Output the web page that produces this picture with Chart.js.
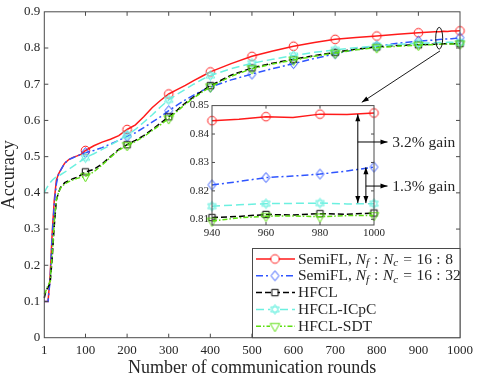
<!DOCTYPE html>
<html><head><meta charset="utf-8">
<script src="https://cdn.jsdelivr.net/npm/chart.js@4/dist/chart.umd.min.js"></script>
<style>
html,body{margin:0;padding:0;background:#fff;}
#wrap{position:relative;width:478px;height:376px;overflow:hidden;}
#main{position:absolute;left:0;top:0;}
#inset{position:absolute;left:170px;top:96px;}
</style></head><body>
<div id="wrap"><canvas id="main" width="478" height="376"></canvas><canvas id="inset" width="300" height="150"></canvas></div>
<script>
// ---------------- data ----------------
const rounds = [1,5,10,15,20,25,30,35,40,50,60,70,80,90,100,120,140,160,180,200,220,240,260,280,300,320,340,360,380,400,450,500,550,600,650,700,750,800,850,900,940,950,960,970,980,990,1000];
const semiFL_16_8 = [0.10,0.10,0.10,0.17,0.29,0.38,0.435,0.452,0.462,0.482,0.492,0.498,0.502,0.507,0.517,0.530,0.540,0.548,0.558,0.575,0.588,0.610,0.635,0.655,0.673,0.685,0.697,0.710,0.722,0.734,0.757,0.777,0.792,0.805,0.815,0.824,0.829,0.833,0.838,0.842,0.8447,0.8452,0.8461,0.8458,0.8470,0.8469,0.8474];
const semiFL_16_32 = [0.10,0.10,0.10,0.16,0.28,0.37,0.425,0.45,0.462,0.482,0.492,0.497,0.502,0.506,0.511,0.517,0.525,0.535,0.545,0.556,0.566,0.580,0.595,0.610,0.627,0.642,0.657,0.670,0.682,0.692,0.712,0.728,0.743,0.757,0.771,0.784,0.796,0.805,0.813,0.819,0.8221,0.8233,0.8247,0.8252,0.8259,0.8270,0.8284];
const hfcl = [0.11,0.13,0.14,0.15,0.22,0.31,0.38,0.40,0.415,0.428,0.434,0.439,0.443,0.450,0.458,0.465,0.480,0.500,0.520,0.533,0.545,0.558,0.575,0.592,0.610,0.628,0.648,0.665,0.681,0.696,0.725,0.745,0.758,0.769,0.779,0.788,0.797,0.803,0.807,0.809,0.8106,0.8110,0.8117,0.8115,0.8120,0.8118,0.8122];
const hfclICpC = [0.40,0.41,0.42,0.428,0.435,0.44,0.444,0.447,0.450,0.457,0.465,0.473,0.481,0.489,0.497,0.508,0.520,0.532,0.545,0.560,0.575,0.595,0.615,0.637,0.657,0.672,0.686,0.700,0.713,0.724,0.743,0.758,0.769,0.779,0.788,0.795,0.801,0.806,0.810,0.813,0.8146,0.8151,0.8155,0.8156,0.8157,0.8154,0.8155];
const hfclSDT = [0.12,0.13,0.145,0.155,0.23,0.32,0.38,0.40,0.413,0.425,0.431,0.436,0.440,0.443,0.446,0.458,0.477,0.498,0.518,0.531,0.542,0.555,0.572,0.588,0.605,0.625,0.645,0.662,0.678,0.693,0.722,0.743,0.756,0.767,0.777,0.786,0.795,0.801,0.805,0.808,0.8094,0.8105,0.8111,0.8112,0.8109,0.8113,0.8114];
const seriesLabels = ['SemiFL, $N_f : N_c = 16 : 8$','SemiFL, $N_f : N_c = 16 : 32$','HFCL','HFCL-ICpC','HFCL-SDT'];
const xTickValues = [1,100,200,300,400,500,600,700,800,900,1000];
const yTickValues = [0,0.1,0.2,0.3,0.4,0.5,0.6,0.7,0.8,0.9];
const mainMarkerRounds = [100,200,300,400,500,600,700,800,900,1000];
const insetXTicks = [940,960,980,1000];
const insetYTicks = [0.81,0.82,0.83,0.84,0.85];
const gainLabels = ['3.2% gain','1.3% gain'];

// ---------------- styles ----------------
const SERIF = '"Liberation Serif","DejaVu Serif",serif';
const TXT = '#262626';
const AX = '#4a4a4a';
function markerPath(ctx, kind, x, y, r){
  ctx.beginPath();
  if(kind==='circle'){ ctx.arc(x,y,r,0,Math.PI*2); }
  else if(kind==='diamond'){ ctx.moveTo(x,y-r); ctx.lineTo(x+r*0.8,y); ctx.lineTo(x,y+r); ctx.lineTo(x-r*0.8,y); ctx.closePath(); }
  else if(kind==='square'){ ctx.rect(x-r,y-r,2*r,2*r); }
  else if(kind==='hex'){
    for(const k of [0,1]){
      for(let i=0;i<3;i++){
        const a=-Math.PI/2+k*Math.PI+i*2*Math.PI/3;
        const px=x+r*Math.cos(a), py=y+r*Math.sin(a);
        if(i===0) ctx.moveTo(px,py); else ctx.lineTo(px,py);
      }
      ctx.closePath();
    }
  }
  else if(kind==='tridown'){
    ctx.moveTo(x,y+r); ctx.lineTo(x+r*0.87,y-r*0.5); ctx.lineTo(x-r*0.87,y-r*0.5); ctx.closePath();
  }
}
function makeMarker(kind,color,r){
  const c=document.createElement('canvas'); c.width=15; c.height=15;
  const g=c.getContext('2d'); g.strokeStyle=color; g.lineWidth=1;
  markerPath(g,kind,7.5,7.5,r); g.stroke(); return c;
}
const styles = [
  {color:'#ff1a1a', dash:[], kind:'circle', r:4.3},
  {color:'#2f55ff', dash:[7,3,2,3], kind:'diamond', r:5},
  {color:'#000000', dash:[6,3], kind:'square', r:3.2},
  {color:'#6cf0e0', dash:[8,4], kind:'hex', r:5},
  {color:'#5cde10', dash:[5,2,1.5,2], kind:'tridown', r:5.5}
];
styles.forEach(s=>{ s.img = makeMarker(s.kind,s.color,s.r); });
const seriesValues = [semiFL_16_8, semiFL_16_32, hfcl, hfclICpC, hfclSDT];

function buildDatasets(minRound, markerRounds){
  return seriesValues.map((vals,i)=>{
    const st=styles[i];
    const pts=[];
    rounds.forEach((r,j)=>{ if(r>=minRound) pts.push({x:r,y:vals[j]}); });
    return {
      label: seriesLabels[i], data: pts,
      borderColor: st.color, backgroundColor: st.color, borderWidth: 1.5,
      borderDash: st.dash, tension: 0, clip: false,
      pointStyle: st.img,
      pointRadius: c => (c.raw && markerRounds.includes(c.raw.x)) ? 5 : 0,
      pointHoverRadius: 0
    };
  }).reverse();
}

// ---------------- helpers ----------------
function arrowHead(ctx, x1,y1,x2,y2, len, w){
  const a=Math.atan2(y2-y1,x2-x1);
  ctx.beginPath();
  ctx.moveTo(x2,y2);
  ctx.lineTo(x2-len*Math.cos(a)+w*Math.sin(a), y2-len*Math.sin(a)-w*Math.cos(a));
  ctx.lineTo(x2-len*Math.cos(a)-w*Math.sin(a), y2-len*Math.sin(a)+w*Math.cos(a));
  ctx.closePath(); ctx.fill();
}
function drawRich(ctx, text, x, y, size){
  const parts=text.split('$');
  let cx=x;
  ctx.textBaseline='middle'; ctx.textAlign='left';
  parts.forEach((p,pi)=>{
    if(pi%2===0){ ctx.font=size+'px '+SERIF; ctx.fillText(p,cx,y); cx+=ctx.measureText(p).width; }
    else{
      for(let i=0;i<p.length;i++){
        const ch=p[i];
        if(ch==='_'){ const s=p[i+1]; ctx.font='italic '+(size*0.72)+'px '+SERIF; ctx.fillText(s,cx,y+3.5); cx+=ctx.measureText(s).width+0.5; i++; continue; }
        if(/[A-Za-z]/.test(ch)) ctx.font='italic '+size+'px '+SERIF; else ctx.font=size+'px '+SERIF;
        ctx.fillText(ch,cx,y); cx+=ctx.measureText(ch).width + (ch===' '?0.6:0);
      }
    }
  });
}
function frameAndTicks(ctx, area, xs, ys, xTicks, yTicks, len){
  ctx.save();
  ctx.strokeStyle=AX; ctx.lineWidth=1; ctx.setLineDash([]);
  ctx.strokeRect(area.left, area.top, area.right-area.left, area.bottom-area.top);
  ctx.beginPath();
  xTicks.forEach(v=>{ const p=xs.getPixelForValue(v); if(p>area.left+1 && p<area.right-1){ ctx.moveTo(p,area.bottom); ctx.lineTo(p,area.bottom-len); ctx.moveTo(p,area.top); ctx.lineTo(p,area.top+len);} });
  yTicks.forEach(v=>{ const p=ys.getPixelForValue(v); if(p>area.top+1 && p<area.bottom-1){ ctx.moveTo(area.left,p); ctx.lineTo(area.left+len,p); ctx.moveTo(area.right,p); ctx.lineTo(area.right-len,p);} });
  ctx.stroke(); ctx.restore();
}

// ---------------- main chart ----------------
const mainDecor = {
  id:'mainDecor',
  afterDraw(chart){
    const ctx=chart.ctx, a=chart.chartArea, xs=chart.scales.x, ys=chart.scales.y;
    frameAndTicks(ctx,a,xs,ys,xTickValues,yTickValues,4);
    // ellipse and pointer arrow
    ctx.save();
    ctx.strokeStyle='#000'; ctx.fillStyle='#000'; ctx.lineWidth=0.9;
    const ex=xs.getPixelForValue(950), ey=ys.getPixelForValue(0.827);
    ctx.beginPath(); ctx.ellipse(ex,ey,3.5,ys.getPixelForValue(0.797)-ey,0,0,Math.PI*2); ctx.stroke();
    const x1=xs.getPixelForValue(952), y1=ys.getPixelForValue(0.792);
    const x2=xs.getPixelForValue(764), y2=ys.getPixelForValue(0.650);
    ctx.beginPath(); ctx.moveTo(x1,y1); ctx.lineTo(x2,y2); ctx.stroke();
    arrowHead(ctx,x1,y1,x2,y2,7,2.5);
    ctx.restore();
    // legend
    ctx.save();
    const L=252, T=248, R=a.right, B=a.bottom;
    ctx.fillStyle='#fff'; ctx.fillRect(L,T,R-L,B-T);
    ctx.strokeStyle=AX; ctx.lineWidth=1; ctx.strokeRect(L+0.5,T+0.5,R-L-0.5,B-T-0.5);
    styles.forEach((st,i)=>{
      const y=259+i*16.8;
      ctx.strokeStyle=st.color; ctx.lineWidth=1.5; ctx.setLineDash(st.dash);
      ctx.beginPath(); ctx.moveTo(256,y); ctx.lineTo(295,y); ctx.stroke();
      ctx.setLineDash([]);
      ctx.fillStyle='#fff'; ctx.fillRect(275-st.r+0.5,y-st.r+0.5,2*st.r-1,2*st.r-1);
      ctx.drawImage(st.img,275-st.img.width/2,y-st.img.height/2);
      ctx.fillStyle=TXT;
      drawRich(ctx,seriesLabels[i],298,y+0.5,15.5);
    });
    ctx.restore();
  }
};

new Chart(document.getElementById('main'),{
  type:'line',
  data:{datasets: buildDatasets(0, mainMarkerRounds)},
  options:{
    responsive:false, animation:false, devicePixelRatio:1,
    layout:{padding:{top:7.5,right:15,left:0,bottom:0}},
    plugins:{legend:{display:false},tooltip:{enabled:false}},
    scales:{
      x:{type:'linear',min:1,max:1000,
        afterBuildTicks:s=>{s.ticks=xTickValues.map(v=>({value:v}));},
        ticks:{autoSkip:false,maxRotation:0,padding:5,color:TXT,font:{family:SERIF,size:13},callback:v=>String(v)},
        grid:{display:false,drawTicks:false},border:{display:false},
        title:{display:true,text:'Number of communication rounds',color:TXT,font:{family:SERIF,size:18,lineHeight:1},padding:{top:0,bottom:-1}},
        afterFit:s=>{s.height=38.3;}},
      y:{type:'linear',min:0,max:0.9,
        afterBuildTicks:s=>{s.ticks=yTickValues.map(v=>({value:v}));},
        ticks:{padding:4,color:TXT,font:{family:SERIF,size:13},callback:v=>(v===0?'0':v.toFixed(1))},
        grid:{display:false,drawTicks:false},border:{display:false},
        title:{display:true,text:'Accuracy',color:TXT,font:{family:SERIF,size:18,lineHeight:1},padding:{top:0,bottom:0}},
        afterFit:s=>{s.width=44.3;}}
    }
  },
  plugins:[mainDecor]
});

// ---------------- inset chart ----------------
const insetDecor = {
  id:'insetDecor',
  beforeDraw(chart){
    const a=chart.chartArea, ctx=chart.ctx;
    ctx.save(); ctx.fillStyle='#fff'; ctx.fillRect(a.left,a.top,a.right-a.left,a.bottom-a.top); ctx.restore();
  },
  afterDraw(chart){
    const ctx=chart.ctx, a=chart.chartArea, xs=chart.scales.x, ys=chart.scales.y;
    frameAndTicks(ctx,a,xs,ys,insetXTicks,insetYTicks,3);
    ctx.save();
    ctx.strokeStyle='#000'; ctx.fillStyle='#000'; ctx.lineWidth=1;
    const bottomV=0.8157;
    const arrows=[{x:994,top:0.8470,mid:0.8372},{x:997,top:0.8283,mid:0.8217}];
    arrows.forEach((ar,i)=>{
      const px=xs.getPixelForValue(ar.x), pt=ys.getPixelForValue(ar.top), pb=ys.getPixelForValue(bottomV);
      ctx.beginPath(); ctx.moveTo(px,pt); ctx.lineTo(px,pb); ctx.stroke();
      arrowHead(ctx,px,pb,px,pt,7,2.5);
      arrowHead(ctx,px,pt,px,pb,7,2.5);
      const pm=ys.getPixelForValue(ar.mid), pe=xs.getPixelForValue(1005);
      ctx.beginPath(); ctx.moveTo(px,pm); ctx.lineTo(pe,pm); ctx.stroke();
      arrowHead(ctx,px,pm,pe,pm,7,2.5);
      ctx.fillStyle=TXT; ctx.font='15.5px '+SERIF; ctx.textBaseline='middle'; ctx.textAlign='left';
      ctx.fillText(gainLabels[i], xs.getPixelForValue(1006.8), pm+0.5);
      ctx.fillStyle='#000';
    });
    ctx.restore();
  }
};

new Chart(document.getElementById('inset'),{
  type:'line',
  data:{datasets: buildDatasets(940, insetXTicks)},
  options:{
    responsive:false, animation:false, devicePixelRatio:1,
    layout:{padding:{top:7,right:96,left:0,bottom:0}},
    plugins:{legend:{display:false},tooltip:{enabled:false}},
    scales:{
      x:{type:'linear',min:940,max:1000,
        afterBuildTicks:s=>{s.ticks=insetXTicks.map(v=>({value:v}));},
        ticks:{autoSkip:false,maxRotation:0,padding:2,color:TXT,font:{family:SERIF,size:11},callback:v=>String(v)},
        grid:{display:false,drawTicks:false},border:{display:false},
        afterFit:s=>{s.height=21;}},
      y:{type:'linear',min:0.808,max:0.85,
        afterBuildTicks:s=>{s.ticks=insetYTicks.map(v=>({value:v}));},
        ticks:{padding:3,color:TXT,font:{family:SERIF,size:11},callback:v=>v.toFixed(2)},
        grid:{display:false,drawTicks:false},border:{display:false},
        afterFit:s=>{s.width=42;}}
    }
  },
  plugins:[insetDecor]
});
</script>
</body></html>
